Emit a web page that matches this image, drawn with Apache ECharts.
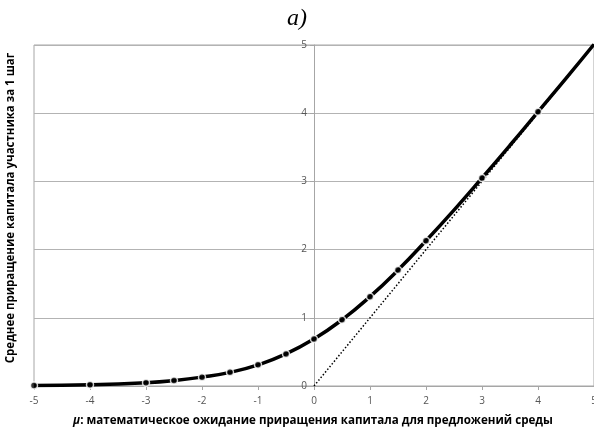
<!DOCTYPE html>
<html><head><meta charset="utf-8">
<script src="https://cdn.jsdelivr.net/npm/echarts@6/dist/echarts.min.js"></script>
<style>html,body{margin:0;padding:0;background:#fff}#c{width:594px;height:434px}</style>
</head><body><div id="c"></div>
<script>
// Curve points (mu, mean increment)
var curveX = [-5, -4, -3, -2.5, -2, -1.5, -1, -0.5, 0, 0.5, 1, 1.5, 2, 2.5, 3, 3.5, 4, 4.5, 5];
var curveY = [0.007, 0.018, 0.049, 0.08, 0.13, 0.20, 0.31, 0.47, 0.69, 0.97, 1.31, 1.70, 2.13, 2.58, 3.05, 3.53, 4.02, 4.51, 5.01];
// Which curve points carry a marker
var markerX = [-5, -4, -3, -2.5, -2, -1.5, -1, -0.5, 0, 0.5, 1, 1.5, 2, 3, 4];
// Asymptote y = mu
var asymX = [0, 5];
var asymY = [0, 5];
var titleText = 'a)';
var yName = 'Среднее приращение капитала участника за 1 шаг';
var xNameRest = ': математическое ожидание приращения капитала для предложений среды';

var curveData = curveX.map(function (x, i) { return [x, curveY[i]]; });
var markerData = curveX.map(function (x, i) { return markerX.indexOf(x) >= 0 ? [x, curveY[i]] : null; }).filter(Boolean);
var asymData = asymX.map(function (x, i) { return [x, asymY[i]]; });

var gridLeft = 34, gridWidth = 560;
var chart = echarts.init(document.getElementById('c'), null, {renderer: 'canvas'});
chart.setOption({
  animation: false,
  backgroundColor: '#fff',
  title: {
    text: titleText, left: 'center', top: 2,
    textStyle: {fontFamily: 'Liberation Serif', fontStyle: 'italic', fontWeight: 'normal', fontSize: 24, color: '#000'}
  },
  grid: {left: gridLeft, right: 0, top: 45, bottom: 48, show: true, borderColor: '#a6a6a6', borderWidth: 1,
         containLabel: false, outerBoundsMode: 'none'},
  xAxis: {
    type: 'value', min: -5, max: 5, interval: 1,
    axisLine: {show: true, onZero: false, lineStyle: {color: '#a6a6a6', width: 1}},
    axisTick: {show: true, length: 4, lineStyle: {color: '#a6a6a6'}},
    axisLabel: {fontSize: 10, color: '#555', margin: 10, fontFamily: 'Open Sans'},
    splitLine: {show: false}
  },
  yAxis: {
    type: 'value', min: 0, max: 5, interval: 1,
    offset: -gridWidth / 2,
    axisLine: {show: true, onZero: false, lineStyle: {color: '#a6a6a6', width: 1}},
    axisTick: {show: true, length: 4, lineStyle: {color: '#a6a6a6'}},
    axisLabel: {fontSize: 10, color: '#555', margin: 7, fontFamily: 'Open Sans'},
    splitLine: {show: true, lineStyle: {color: '#b3b3b3', width: 1}}
  },
  graphic: [
    {type: 'text', x: 11, y: 208, rotation: Math.PI / 2,
     style: {text: yName, font: 'bold 11.5px "Open Sans"', fill: '#000', textAlign: 'center', textVerticalAlign: 'middle'}},
    {type: 'text', x: 313, y: 421,
     style: {rich: {m: {fontStyle: 'italic', fontWeight: 'bold', fontSize: 11.6, fontFamily: 'Open Sans', fill: '#000'},
                    t: {fontWeight: 'bold', fontSize: 11.6, fontFamily: 'Open Sans', fill: '#000'}},
             text: '{m|μ}{t|' + xNameRest + '}', textAlign: 'center', textVerticalAlign: 'middle'}}
  ],
  series: [
    {type: 'line', data: asymData, symbol: 'none', silent: true,
     lineStyle: {color: '#000', width: 1.5, type: [1.5, 2]}, z: 2},
    {type: 'line', data: curveData, symbol: 'none', smooth: true, silent: true,
     lineStyle: {color: '#000', width: 3.5}, z: 3},
    {type: 'scatter', data: markerData, symbol: 'circle', symbolSize: 7, silent: true,
     itemStyle: {color: '#000', borderColor: '#fff', borderWidth: 1.5}, z: 4}
  ]
});
</script></body></html>
